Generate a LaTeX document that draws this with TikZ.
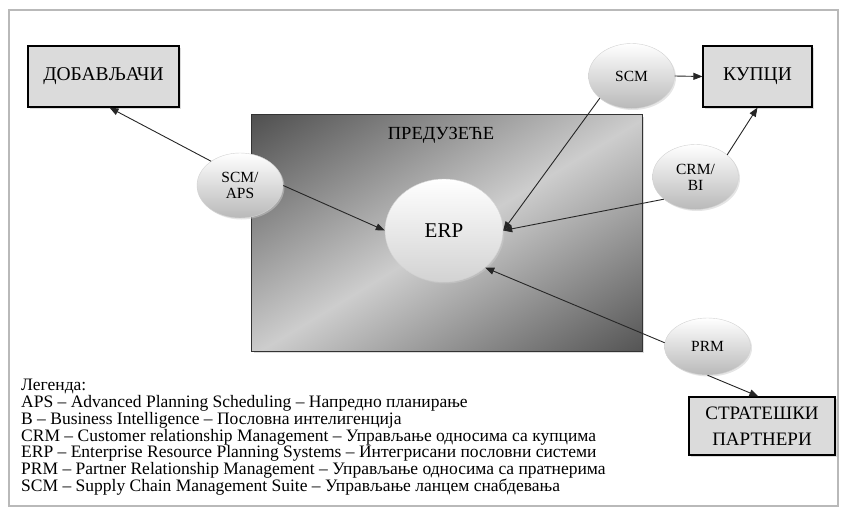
\documentclass[tikz,border=0pt]{standalone}
\usepackage{fontspec}
\setmainfont{Liberation Serif}
\usetikzlibrary{shapes.geometric,arrows.meta,shadows}

\definecolor{firmdark}{HTML}{4A4A4A}
\definecolor{firmlight}{HTML}{CDCDCD}

\begin{document}
\begin{tikzpicture}[x=1pt,y=-1pt,
        box/.style={rectangle, draw=black, line width=1.2pt, fill=gray!28, align=center, inner sep=2pt, font=\fontsize{19.5}{22}\selectfont, drop shadow={shadow xshift=2pt, shadow yshift=-2pt, fill=gray!55}},
        oval/.style={ellipse, draw=gray!35, top color=white, bottom color=gray!55, minimum width=86pt, minimum height=65pt, inner sep=0pt, align=center, font=\fontsize{15.5}{16}\selectfont, drop shadow={shadow xshift=1.5pt, shadow yshift=-1.5pt, fill=gray!40}},
        firm/.style={rectangle, fill=firmdark, drop shadow={shadow xshift=2pt, shadow yshift=-2pt, fill=gray!55}},
        arr/.style={-{Triangle[length=9pt,width=7pt]}, line width=0.9pt, draw=black!85},
        legend/.style={align=left, inner sep=0pt, font=\fontsize{17.5}{16.8}\selectfont}
    ]
    \useasboundingbox (0,0) rectangle (844,514);
    \draw[gray!55, line width=1.5pt] (9,10) rectangle (838,506);

    \node[firm, minimum width=390pt, minimum height=236pt] (firm) at (447,233) {};
    \begin{scope}
        \clip (firm.south west) rectangle (firm.north east);
        \shade[transform canvas={shift={(435,245)}, rotate=-58.8}, left color=firmdark, right color=firmdark, middle color=firmlight] (-215,-250) rectangle (215,250);
    \end{scope}
    \draw[gray!40!black, line width=1pt] (firm.south west) rectangle (firm.north east);
    \node[font=\fontsize{18.5}{20}\selectfont] (firmlbl) at (441,135) {ПРЕДУЗЕЋЕ};

    \node[box, minimum width=151pt, minimum height=61pt] (dob) at (103.5,76.5) {ДОБАВЉАЧИ};
    \node[box, minimum width=109pt, minimum height=61pt] (kupci) at (757.5,76.5) {КУПЦИ};
    \node[box, minimum width=146pt, minimum height=58pt, font=\fontsize{19}{26}\selectfont] (partn) at (762,426) {СТРАТЕШКИ\\ПАРТНЕРИ};

    \node[oval, minimum width=118pt, minimum height=103pt, bottom color=gray!35, font=\fontsize{21}{24}\selectfont] (erp) at (444,230.5) {ERP};
    \node[oval] (scmaps) at (240,185.5) {SCM/\\APS};
    \node[oval] (scm) at (631.5,76) {SCM};
    \node[oval] (crm) at (695.5,177) {CRM/\\BI};
    \node[oval, minimum height=57pt] (prm) at (707.5,346.5) {PRM};

    \draw[arr] (scmaps.140) -- (dob.-79);
    \draw[arr] (scmaps.east) -- (erp.west);
    \draw[arr] (scm.east) -- (kupci.west);
    \draw[arr] (scm.215) -- (erp.east);
    \draw[arr] (crm.35) -- (kupci.south);
    \draw[arr] (crm.215) -- (erp.east);
    \draw[arr] (prm.175) -- (erp.-42);
    \draw[arr] (prm.-90) -- (partn.97);

    \node[legend, anchor=north west] (leg) at (21,379) {Легенда:\\
        APS – Advanced Planning Scheduling – Напредно планирање\\
        B – Business Intelligence – Пословна интелигенција\\
        CRM – Customer relationship Management – Управљање односима са купцима\\
        ERP – Enterprise Resource Planning Systems – Интегрисани пословни системи\\
        PRM – Partner Relationship Management – Управљање односима са пратнерима\\
        SCM – Supply Chain Management Suite – Управљање ланцем снабдевања};
\end{tikzpicture}
\end{document}
